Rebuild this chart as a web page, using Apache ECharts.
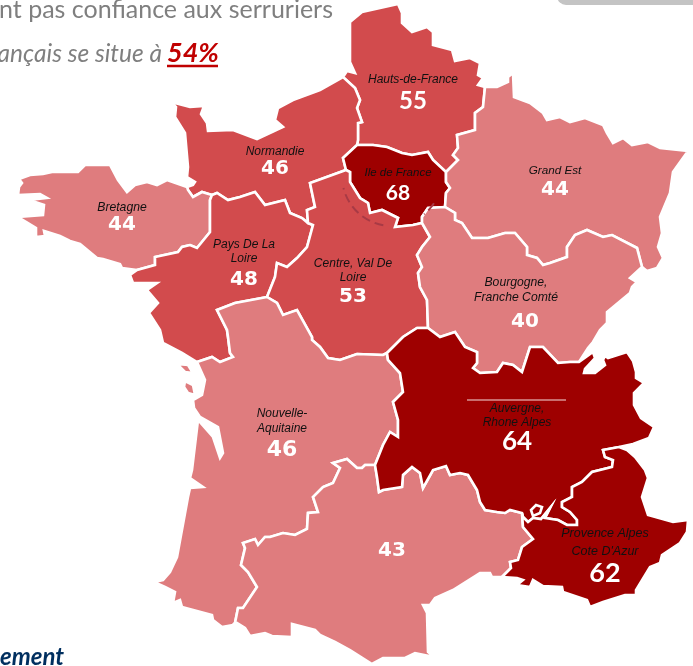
<!DOCTYPE html>
<html>
<head>
<meta charset="utf-8">
<style>
  html, body { margin: 0; padding: 0; background: #fff; }
  #chart { width: 693px; height: 666px; }
</style>
<script src="https://cdn.jsdelivr.net/npm/echarts@6/dist/echarts.min.js"></script>
</head>
<body>
<div id="chart"></div>
<script>
// Region data
const regionNames = ["Hauts-de-France", "Normandie", "Ile de France", "Grand Est", "Bretagne", "Pays De La Loire",
  "Centre, Val De Loire", "Bourgogne, Franche Comté", "Nouvelle-Aquitaine", "Occitanie", "Auvergne, Rhone Alpes", "Provence Alpes Cote D'Azur"];
const regionValues = [55, 46, 68, 44, 44, 48, 53, 40, 46, 43, 64, 62];
const regionTiers = [1, 1, 2, 0, 0, 1, 1, 0, 0, 0, 2, 2];
const regionLabels = ["Hauts-de-France", "Normandie", "Ile de France", "Grand Est", "Bretagne", "Pays De La\nLoire",
  "Centre, Val De\nLoire", "Bourgogne,\nFranche Comté", "Nouvelle-\nAquitaine", "", "Auvergne,\nRhone Alpes", "Provence Alpes\nCote D'Azur"];

const tierColors = ["#DF7C7E", "#D24B4D", "#9E0000"];

// Region outlines, pixel positions, shared borders are kept once
const coastHdf = [[343,77],[347,71],[355,73],[350,62],[350,22],[362,12],[398,4],[402,13],[402,23],[412,32],[418,30],[427,27],[433,32],[433,45],[452,50],[455,61],[470,58],[480,63],[478,75],[483,78],[478,85],[485,87]];
const bHdfGe = [[446,172],[458,160],[453,155],[458,148],[457,135],[475,130],[475,113],[483,107],[485,87]];
const bHdfIdf = [[357,145],[373,145],[387,147],[402,153],[412,155],[428,152],[433,160],[446,172]];
const bNormHdf = [[357,145],[358,140],[358,123],[362,122],[357,108],[360,100],[355,88],[343,77]];
const coastNorm = [[343,77],[320,90],[293,100],[278,108],[275,120],[283,127],[257,139],[233,130],[208,131],[207,123],[201,114],[204,106],[190,107],[171,102],[176,107],[175,117],[185,133],[188,167],[187,177],[195,182],[193,185],[187,187]];
const bNormBre = [[187,187],[188,190],[193,197],[202,192],[212,195]];
const bNormPdl = [[212,195],[217,193],[228,200],[240,197],[255,192],[265,205],[285,200],[290,213],[302,218],[308,223]];
const bNormCvl = [[308,223],[307,210],[315,207],[310,183],[346,170]];
const bNormIdf = [[346,170],[343,158],[357,145]];
const coastBre = [[187,187],[167,180],[157,185],[147,182],[135,185],[127,192],[118,180],[110,165],[85,165],[78,172],[68,172],[52,172],[43,174],[30,175],[19,179],[22,183],[19,187],[18,195],[40,194],[47,198],[29,200],[44,205],[43,215],[18,217],[28,223],[36,228],[36,237],[45,236],[44,231],[60,236],[70,241],[80,244],[97,258],[103,259],[120,264],[122,268],[137,270]];
const bBrePdl = [[137,270],[155,265],[155,257],[178,252],[182,247],[190,245],[197,248],[210,232],[210,200],[212,195]];
const bCvlPdl = [[308,223],[313,225],[307,247],[297,258],[287,267],[277,263],[275,277],[267,297]];
const bPdlNa = [[267,297],[235,303],[217,310],[227,330],[228,337],[230,353],[233,357],[220,362],[212,357],[197,362]];
const coastPdl = [[197,362],[182,353],[163,343],[160,330],[149,313],[158,303],[147,290],[157,283],[133,283],[130,275],[137,270]];
const bIdfGe = [[445,207],[446,193],[450,188],[446,182],[446,172]];
const bIdfBfc = [[445,207],[428,208],[422,217],[422,223]];
const bIdfCvl = [[422,223],[413,225],[395,227],[398,218],[382,210],[370,213],[368,203],[360,198],[350,182],[350,172],[346,170]];
const bBfcCvl = [[422,223],[430,237],[422,247],[417,255],[422,267],[418,273],[420,287],[427,300],[428,328]];
const bCvlAra = [[428,328],[417,328],[403,337],[387,353]];
const bCvlNa = [[387,353],[383,355],[357,354],[340,360],[328,358],[320,347],[312,340],[312,337],[297,310],[283,315],[277,303],[267,297]];
const coastGe = [[485,87],[497,87],[508,82],[508,77],[513,73],[514,97],[530,103],[543,113],[547,120],[560,117],[570,122],[585,118],[603,125],[607,133],[613,143],[623,138],[632,145],[648,142],[660,148],[688,151],[673,172],[670,193],[660,217],[662,233],[658,247],[663,258],[657,268],[647,271],[642,267]];
const bGeBfc = [[642,267],[637,248],[612,235],[603,237],[587,230],[575,235],[567,247],[567,257],[550,263],[543,265],[537,258],[527,255],[527,247],[515,233],[505,233],[488,238],[472,238],[462,223],[455,220],[455,213],[445,207]];
const bfcEast = [[642,267],[630,278],[637,282],[632,287],[630,293],[607,312],[607,323],[600,330],[593,342],[588,348],[579,362]];
const bBfcAra = [[428,328],[440,337],[455,332],[465,347],[477,352],[477,363],[473,368],[480,373],[497,372],[503,363],[513,365],[522,372],[530,347],[543,347],[558,363],[570,362],[579,362]];
const coastAra = [[579,362],[593,352],[595,358],[585,369],[584,373],[595,373],[605,365],[603,360],[605,356],[608,358],[627,352],[633,361],[636,372],[636,378],[644,383],[634,393],[634,405],[641,418],[654,427],[649,438],[633,444],[619,447]];
const bAraPaca = [[619,447],[603,450],[605,457],[613,460],[612,467],[592,472],[582,482],[572,487],[572,497],[562,502],[562,507],[570,512],[577,520],[577,525],[567,525],[558,520],[545,518],[550,508],[541,519],[533,518],[528,522],[523,517],[522,513]];
const bAraOcc = [[522,513],[510,510],[505,513],[497,512],[485,510],[480,502],[477,490],[468,475],[460,473],[450,475],[446,466],[433,470],[423,488],[420,473],[412,467],[403,475],[402,487],[383,490],[379,492],[377,477],[375,465]];
const bAraNa = [[375,465],[383,445],[390,432],[398,437],[398,420],[393,402],[403,392],[400,373],[388,360],[387,353]];
const bPacaOcc = [[522,513],[523,527],[533,539],[522,547],[518,560],[510,562],[511,568],[502,577]];
const coastPaca = [[502,577],[517,578],[523,580],[517,585],[530,587],[533,580],[543,586],[562,587],[563,592],[587,600],[590,607],[603,602],[625,595],[636,595],[636,590],[650,567],[660,563],[662,555],[680,543],[687,532],[688,520],[673,522],[648,515],[642,497],[648,478],[645,470],[635,457],[627,450],[619,447]];
const coastOcc = [[502,577],[492,577],[490,573],[480,573],[453,590],[435,598],[430,605],[423,605],[427,613],[428,652],[434,657],[415,653],[405,658],[383,658],[372,664],[350,650],[335,642],[320,635],[315,630],[292,624],[292,637],[272,636],[265,633],[250,636],[245,628],[237,623],[233,625]];
const bNaOcc = [[233,625],[235,623],[238,608],[243,608],[257,587],[248,572],[241,565],[245,548],[243,543],[255,539],[258,545],[265,537],[270,537],[283,533],[295,535],[307,529],[308,513],[318,512],[313,497],[323,487],[333,483],[340,468],[333,463],[347,459],[357,468],[362,468],[365,465],[375,465]];
const coastNa = [[233,625],[222,627],[213,620],[212,615],[182,607],[180,600],[173,603],[175,592],[165,587],[154,582],[163,580],[170,572],[177,557],[188,497],[190,488],[203,487],[190,478],[192,470],[198,420],[213,437],[220,458],[223,453],[218,427],[200,417],[194,408],[193,400],[202,395],[205,380],[197,362]];
const ileRe = [[177,364],[188,365],[193,373],[185,372]];
const ileOleron = [[185,381],[193,385],[195,395],[188,393],[184,387]];
const vaucluse = [[533,516],[531,510],[536,505],[542,507],[540,513]];

function rev(a) {
  return a.slice().reverse();
}

const regionRings = [
  [[coastHdf, rev(bHdfGe), rev(bHdfIdf), bNormHdf]],
  [[coastNorm, bNormBre, bNormPdl, bNormCvl, bNormIdf, bNormHdf]],
  [[bHdfIdf, rev(bIdfGe), bIdfBfc, bIdfCvl, bNormIdf]],
  [[coastGe, bGeBfc, bIdfGe, bHdfGe]],
  [[coastBre, bBrePdl, rev(bNormBre)]],
  [[bNormPdl, bCvlPdl, bPdlNa, coastPdl, bBrePdl]],
  [[bNormCvl, rev(bIdfCvl), bBfcCvl, bCvlAra, bCvlNa, rev(bCvlPdl)]],
  [[rev(bIdfBfc), rev(bGeBfc), bfcEast, rev(bBfcAra), rev(bBfcCvl)]],
  [[rev(bCvlNa), rev(bAraNa), rev(bNaOcc), coastNa, rev(bPdlNa)], [ileRe], [ileOleron]],
  [[rev(bAraOcc), bPacaOcc, coastOcc, bNaOcc]],
  [[bBfcAra, coastAra, bAraPaca, bAraOcc, bAraNa, rev(bCvlAra)]],
  [[bPacaOcc, coastPaca, bAraPaca], [vaucluse]],
];

// Where the label block of each region sits
const labelAnchors = [[413,94],[275,162],[398,186],[555,183],[122,218],[244,266],[353,283],[516,307],[282,435],[392,551],[517,428],[605,555]];
const nameSizes = [12, 12, 11.5, 11.7, 12.2, 12, 12, 12.2, 12, 12, 12, 12.5];
const nameLines = [14, 14, 14, 14, 14, 14, 14, 15, 15, 14, 14, 18];
const valueFonts = ["Lato", "DejaVu Sans", "Lato", "DejaVu Sans", "DejaVu Sans", "DejaVu Sans", "DejaVu Sans", "DejaVu Sans", "DejaVu Sans", "DejaVu Sans", "Lato", "Lato"];
const valueSizes = [24, 20, 21, 20, 20, 20, 20, 20, 22, 20, 26, 27];
const valueLines = [28, 20, 27, 24, 20, 28, 24, 34, 28, 22, 24, 25];
const valuePads = [0, 0, 0, 0, 0, 0, 0, 18, 0, 0, 0, 0];

var features = regionNames.map(function (name, i) {
  var polys = regionRings[i].map(function (parts) {
    var ring = [].concat.apply([], parts).map(function (p) {
      return [p[0], -p[1]];
    });
    ring.push(ring[0]);
    return [ring];
  });
  return {
    type: "Feature",
    properties: { name: name, cp: [labelAnchors[i][0], -labelAnchors[i][1]] },
    geometry: { type: "MultiPolygon", coordinates: polys },
  };
});

echarts.registerMap("france", { type: "FeatureCollection", features: features });

var chartDom = document.getElementById("chart");
var chart = echarts.init(chartDom, null, { renderer: "canvas" });

var option = {
  animation: false,
  backgroundColor: "#fff",
  series: [
    {
      type: "map",
      map: "france",
      left: 0,
      top: 0,
      width: 693,
      height: 666,
      aspectScale: 1,
      boundingCoords: [[0, 0], [693, -666]],
      roam: false,
      silent: true,
      selectedMode: false,
      itemStyle: { borderColor: "#fff", borderWidth: 2.6 },
      label: { show: true },
      data: regionNames.map(function (name, i) {
        var lines = regionLabels[i];
        return {
          name: name,
          value: regionValues[i],
          itemStyle: { color: tierColors[regionTiers[i]], areaColor: tierColors[regionTiers[i]] },
          label: {
            show: true,
            formatter: (lines ? lines.split("\n").map(function (l) { return "{n|" + l + "}"; }).join("\n") + "\n" : "") + "{v|" + regionValues[i] + "}",
            rich: {
              n: { fontFamily: "Liberation Sans", fontStyle: "italic", fontSize: nameSizes[i], color: "#111", lineHeight: nameLines[i] },
              v: { fontFamily: valueFonts[i], fontWeight: "bold", fontSize: valueSizes[i], color: "#fff", lineHeight: valueLines[i], padding: [0, 0, 0, valuePads[i]] },
            },
          },
        };
      }),
    },
  ],
  graphic: [
    { type: "rect", silent: true, shape: { x: 557, y: -25, width: 170, height: 30, r: 9 }, style: { fill: "#C4C4C4" } },
    { type: "text", silent: true, x: -1, y: 10, style: { text: "nt pas confiance aux serruriers", fontFamily: "Lato", fontSize: 25, fill: "#7F7F7F", textVerticalAlign: "middle" } },
    { type: "text", silent: true, x: 162, y: 54, style: { text: "ançais se situe à", fontFamily: "Lato", fontStyle: "italic", fontSize: 24.5, fill: "#7F7F7F", align: "right", textVerticalAlign: "middle" } },
    { type: "text", silent: true, x: 167, y: 53, style: { text: "54%", fontFamily: "Lato", fontStyle: "italic", fontWeight: "bold", fontSize: 27, fill: "#C00000", textVerticalAlign: "middle" } },
    { type: "line", silent: true, shape: { x1: 167, y1: 66, x2: 218, y2: 66 }, style: { stroke: "#C00000", lineWidth: 2.5 } },
    { type: "text", silent: true, x: 0, y: 657, style: { text: "ement", fontFamily: "Lato", fontStyle: "italic", fontWeight: "bold", fontSize: 24, fill: "#002F5F", textVerticalAlign: "middle" } },
    { type: "arc", silent: true, z: 10, shape: { cx: 392, cy: 176, r: 50, startAngle: (100 * Math.PI) / 180, endAngle: (166 * Math.PI) / 180 }, style: { fill: "none", stroke: "#A83A45", lineWidth: 2, lineDash: [9, 5] } },
    { type: "arc", silent: true, z: 10, shape: { cx: 392, cy: 176, r: 50, startAngle: (33 * Math.PI) / 180, endAngle: (50 * Math.PI) / 180 }, style: { fill: "none", stroke: "#A83A45", lineWidth: 2, lineDash: [9, 5] } },
    { type: "line", silent: true, z: 10, shape: { x1: 467, y1: 400, x2: 566, y2: 400 }, style: { stroke: "#F4DCDC", lineWidth: 1 } },
  ],
};

chart.setOption(option);
</script>
</body>
</html>
